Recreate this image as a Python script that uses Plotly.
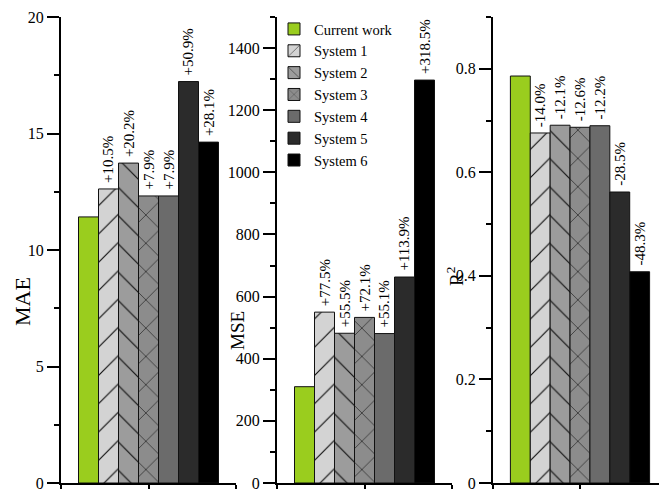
import plotly.graph_objects as go

# ---------------- data ----------------
systems = ["Current work", "System 1", "System 2", "System 3", "System 4", "System 5", "System 6"]
mae = [11.42, 12.62, 13.73, 12.32, 12.32, 17.23, 14.63]
mse = [310, 550, 482, 533, 481, 663, 1297]
r2 = [0.786, 0.676, 0.691, 0.687, 0.690, 0.562, 0.408]
mae_labels = ["", "+10.5%", "+20.2%", "+7.9%", "+7.9%", "+50.9%", "+28.1%"]
mse_labels = ["", "+77.5%", "+55.5%", "+72.1%", "+55.1%", "+113.9%", "+318.5%"]
r2_labels = ["", "-14.0%", "-12.1%", "-12.6%", "-12.2%", "-28.5%", "-48.3%"]

# ---------------- styles ----------------
colors = ["#9ACD1E", "#D3D3D3", "#9C9C9C", "#8C8C8C", "#6B6B6B", "#2B2B2B", "#000000"]
patterns = ["", "/", "\\", "x", "", "", ""]
FONT = "Liberation Serif"
TW, TH = 667, 489          # target picture size
OFF = 8                    # page body margin
W, H = TW - OFF, TH - OFF  # figure size


def fx(p):
    return (p - OFF) / W


def fy(p):
    return 1 - (p - OFF) / H


panels = [
    dict(vals=mae, labels=mae_labels, rng=[0, 20], dtick=5, minor=2.5, x0=61, title="MAE",
         tsize=22, tx=22, ty=302),
    dict(vals=mse, labels=mse_labels, rng=[0, 1500], dtick=200, minor=100, x0=277, title="MSE",
         tsize=19, tx=237, ty=331),
    dict(vals=r2, labels=r2_labels, rng=[0, 0.9], dtick=0.2, minor=0.1, x0=493, title="R<sup>2</sup>",
         tsize=19, tx=455, ty=277),
]
AXW = 175  # axis length in px
n = len(systems)
bw = 1.6 / n  # bar width in data units (x range 0..2)

fig = go.Figure()
annotations = []
layout = dict(
    template="none",
    width=W, height=H,
    margin=dict(l=0, r=0, t=0, b=0, pad=0, autoexpand=False),
    paper_bgcolor="white", plot_bgcolor="white",
    font=dict(family=FONT, color="black", size=16),
    barmode="overlay",
    showlegend=True,
    legend=dict(x=fx(274), y=fy(13), xanchor="left", yanchor="top",
                font=dict(family=FONT, size=14.5, color="black"),
                bgcolor="rgba(0,0,0,0)", borderwidth=0, tracegroupgap=0, traceorder="normal"),
)

for k, p in enumerate(panels):
    sfx = "" if k == 0 else str(k + 1)
    for i in range(n):
        xc = 1 + (i - (n - 1) / 2) * bw
        fig.add_trace(go.Bar(
            x=[xc], y=[p["vals"][i]], width=[bw],
            name=systems[i], legendgroup=systems[i], showlegend=(k == 0),
            marker=dict(color=colors[i], line=dict(color="#111111", width=1),
                        pattern=dict(shape=patterns[i], fgcolor="#111111", bgcolor=colors[i],
                                     fillmode="replace", size=20, solidity=0.06)),
            xaxis="x" + sfx, yaxis="y" + sfx,
        ))
        lab = p["labels"][i]
        if lab:
            annotations.append(dict(
                text=lab, x=xc, y=p["vals"][i], xref="x" + sfx, yref="y" + sfx,
                xanchor="center", yanchor="bottom", yshift=5, showarrow=False,
                textangle=-90, font=dict(family=FONT, size=15, color="black"),
                borderpad=0,
            ))
    x0 = p["x0"]
    x1 = min(x0 + AXW, TW)
    layout["xaxis" + sfx] = dict(
        domain=[fx(x0), fx(x1)], range=[0, 2], anchor="y" + sfx, automargin=False,
        tickvals=[0, 1, 2], showticklabels=False, ticks="outside", ticklen=6, tickwidth=2,
        tickcolor="black", showline=True, linewidth=2, linecolor="black",
        showgrid=False, zeroline=False, fixedrange=True,
    )
    layout["yaxis" + sfx] = dict(
        domain=[fy(483), fy(17)], range=p["rng"], anchor="x" + sfx, automargin=False,
        dtick=p["dtick"], tick0=0, ticks="outside", ticklen=12, tickwidth=2, tickcolor="black",
        showline=True, linewidth=2, linecolor="black", showgrid=False, zeroline=False,
        tickfont=dict(family=FONT, size=16, color="black"), ticklabeloverflow="allow",
        minor=dict(dtick=p["minor"], tick0=0, ticks="outside", ticklen=5, tickwidth=2,
                   tickcolor="black", showgrid=False),
        fixedrange=True,
    )
    annotations.append(dict(
        text=p["title"], x=fx(p["tx"]), y=fy(p["ty"]), xref="paper", yref="paper",
        xanchor="center", yanchor="middle", showarrow=False, textangle=-90,
        font=dict(family=FONT, size=p["tsize"], color="black"),
    ))

layout["annotations"] = annotations
fig.update_layout(**layout)
fig.write_html("out.html")
